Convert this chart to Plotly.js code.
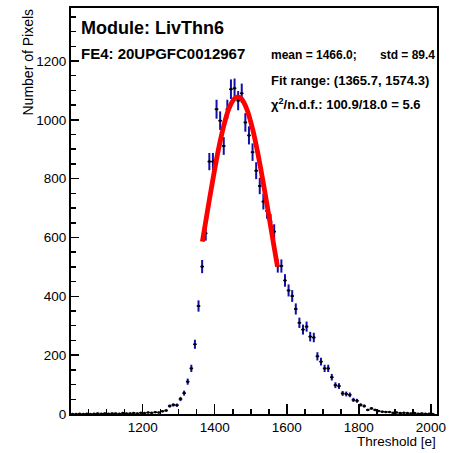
<!DOCTYPE html>
<html><head><meta charset="utf-8">
<script src="https://cdn.plot.ly/plotly-3.0.1.min.js"></script>
<style>html,body{margin:0;padding:0;background:#fff}</style>
</head><body><div id="chart" style="width:449px;height:453px"></div>
<script>
// Histogram bin centres (bin width 10 e)
const binCenters = [1005,1015,1025,1035,1045,1055,1065,1075,1085,1095,
  1105,1115,1125,1135,1145,1155,1165,1175,1185,1195,
  1205,1215,1225,1235,1245,1255,1265,1275,1285,1295,
  1305,1315,1325,1335,1345,1355,1365,1375,1385,1395,
  1405,1415,1425,1435,1445,1455,1465,1475,1485,1495,
  1505,1515,1525,1535,1545,1555,1565,1575,1585,1595,
  1605,1615,1625,1635,1645,1655,1665,1675,1685,1695,
  1705,1715,1725,1735,1745,1755,1765,1775,1785,1795,
  1805,1815,1825,1835,1845,1855,1865,1875,1885,1895,
  1905,1915,1925,1935,1945,1955,1965,1975,1985,1995,2005];
// Number of pixels per bin
const pixelCounts = [0,0,1,0,1,0,1,2,1,2,
  1,2,2,1,3,2,2,3,2,4,
  3,5,4,6,5,9,12,27,31,30,
  51,71,110,155,237,367,501,614,858,858,
  1036,997,911,1036,1104,1107,1065,1090,991,947,
  890,827,775,722,690,654,620,503,503,454,
  420,401,357,310,287,297,263,260,196,178,
  155,155,125,98,95,70,68,65,48,45,
  31,27,14,19,14,10,8,7,7,4,
  5,3,4,3,2,3,1,2,1,1,0];
// Gaussian fit curve
const fitX = [1365.7,1380,1395,1410,1425,1440,1455,1464,1475,1490,1505,1520,1535,1550,1565,1574.3];
const fitY = [586,691,798,897,979,1040,1072,1078,1070,1033,969,884,784,676,566,500];
// Texts
const moduleText = "Module: LivThn6";
const feText = "FE4: 20UPGFC0012967";
const meanText = "mean = 1466.0;";
const stdText = "std = 89.4";
const fitRangeText = "Fit range: (1365.7, 1574.3)";
const chi2Text = "\u03c7<sup>2</sup>/n.d.f.: 100.9/18.0 = 5.6";
const xTitle = "Threshold [e]";
const yTitle = "Number of Pixels";
const xTicks = [1200,1400,1600,1800,2000];
const yTicks = [0,200,400,600,800,1000,1200];

const W=449,H=453,L=71,R=12,T=8,B=39;
const pw=W-L-R, ph=H-T-B;
const fx=p=>(p-L)/pw, fy=p=>(H-B-p)/ph;
const FONT='Liberation Sans, Arial, Helvetica, sans-serif';

const traces = [
  {type:'scatter', mode:'markers', x:binCenters, y:pixelCounts,
   marker:{size:2.5,color:'#000'},
   error_y:{type:'sqrt', color:'#1010a8', thickness:2, width:0},
   error_x:{type:'constant', value:5, color:'#000', thickness:1.5, width:0},
   hoverinfo:'skip'},
  {type:'scatter', mode:'lines', x:fitX, y:fitY,
   line:{color:'#ff0000', width:4.8, shape:'spline'}, hoverinfo:'skip'}
];

function ann(text,x,y,size,xa,extra){
  return Object.assign({text:text, xref:'paper', yref:'paper', x:fx(x), y:fy(y),
    xanchor:xa, yanchor:'middle', showarrow:false, borderpad:0,
    font:{family:FONT,size:size,color:'#000'}}, extra||{});
}

const layout = {
  width:W, height:H, margin:{l:L,r:R,t:T,b:B,pad:0},
  paper_bgcolor:'#fff', plot_bgcolor:'#fff', showlegend:false,
  font:{family:FONT,size:13.5,color:'#000'},
  xaxis:{range:[1001,2017], tickmode:'array', tickvals:xTicks,
    ticks:'inside', ticklen:10, tickwidth:1.5, tickcolor:'#000',
    minor:{dtick:50, tick0:1000, ticks:'inside', ticklen:5, tickwidth:1.5, tickcolor:'#000', showgrid:false},
    showline:true, linewidth:2, linecolor:'#000', mirror:true,
    showgrid:false, zeroline:false, tickfont:{size:13.5}},
  yaxis:{range:[0,1380], tickmode:'array', tickvals:yTicks,
    ticks:'inside', ticklen:8, tickwidth:1.5, tickcolor:'#000',
    minor:{dtick:50, tick0:0, ticks:'inside', ticklen:5, tickwidth:1.5, tickcolor:'#000', showgrid:false},
    showline:true, linewidth:2, linecolor:'#000', mirror:true,
    showgrid:false, zeroline:false, tickfont:{size:13.5}},
  annotations:[
    ann('<b>'+moduleText+'</b>', 80, 27.5, 18, 'left'),
    ann('<b>'+feText+'</b>', 80, 54, 15, 'left'),
    ann('<b>'+meanText+'</b>', 270, 54.5, 12, 'left'),
    ann('<b>'+stdText+'</b>', 436, 54.5, 12, 'right'),
    ann('<b>'+fitRangeText+'</b>', 270, 80.5, 13, 'left'),
    ann('<b>'+chi2Text+'</b>', 270, 104.5, 13, 'left'),
    ann(xTitle, 437, 441, 13.5, 'right'),
    Object.assign(ann(yTitle, 27, 8, 14, 'center'), {yanchor:'top', textangle:-90})
  ]
};

Plotly.newPlot('chart', traces, layout, {staticPlot:true, displayModeBar:false});
</script>
</body></html>
